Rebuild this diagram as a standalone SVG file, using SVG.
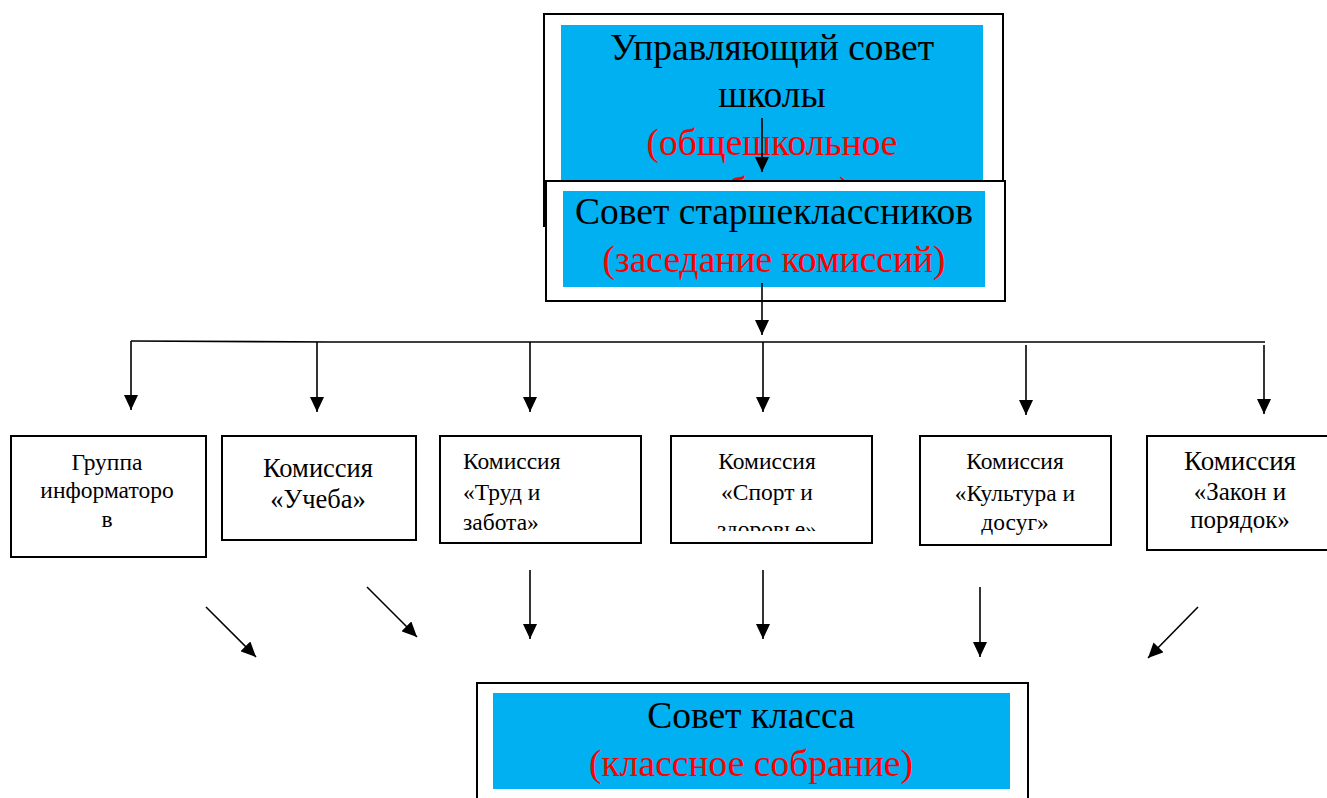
<svg xmlns="http://www.w3.org/2000/svg" width="1327" height="798" viewBox="0 0 1327 798">
<style>
.box{fill:#fff;stroke:#000;stroke-width:2}
.fill{fill:#00B0F0}
text{font-family:'Liberation Serif','Times New Roman',Times,serif;fill:#000}
.r{fill:#FF0000}
.big{font-size:37.5px}
.sm{font-size:23.5px}
.md{font-size:26.5px}
.c{text-anchor:middle}
.ln{stroke:#000;stroke-width:1.6;fill:none}
</style>
<defs>
<marker id="ah" markerUnits="userSpaceOnUse" markerWidth="16" markerHeight="14" refX="15" refY="7" orient="auto" viewBox="0 0 16 14">
<path d="M0,0 L15,7 L0,14 z" fill="#000"/>
</marker>
<clipPath id="clip4"><rect x="671" y="436" width="201" height="95"/></clipPath>
<clipPath id="clip1"><rect x="544" y="14" width="459" height="166"/></clipPath>
</defs>

<g id="node-school">
<rect class="box" x="544" y="14" width="459" height="212"/>
<rect class="fill" x="561" y="25" width="422" height="170"/>
<text class="big c" x="772" y="60" font-size="38">Управляющий совет</text>
<text class="big c" x="772" y="107" font-size="38">школы</text>
<text class="big c r" x="772" y="155" font-size="38">(общешкольное</text>
<text class="big c r" x="772" y="203" font-size="38" clip-path="url(#clip1)">собрание)</text>
</g>

<g id="node-senior">
<rect class="box" x="546" y="181" width="459" height="120"/>
<rect class="fill" x="563" y="191" width="422" height="96"/>
<text class="big c" x="774" y="224">Совет старшеклассников</text>
<text class="big c r" x="774" y="272">(заседание комиссий)</text>
</g>

<g id="node-info">
<rect class="box" x="11" y="436" width="195" height="121"/>
<text class="sm c" x="107" y="470">Группа</text>
<text class="sm c" x="107" y="498">информаторо</text>
<text class="sm c" x="107" y="527">в</text>
</g>

<g id="node-study">
<rect class="box" x="222" y="436" width="194" height="104"/>
<text class="md c" x="318" y="477">Комиссия</text>
<text class="md c" x="318" y="508">«Учеба»</text>
</g>

<g id="node-labor">
<rect class="box" x="440" y="436" width="201" height="107"/>
<text class="sm" x="463" y="469">Комиссия</text>
<text class="sm" x="463" y="500">«Труд и</text>
<text class="sm" x="463" y="530">забота»</text>
</g>

<g id="node-sport">
<rect class="box" x="671" y="436" width="201" height="107"/>
<g clip-path="url(#clip4)">
<text class="sm c" x="767" y="469">Комиссия</text>
<text class="sm c" x="767" y="500">«Спорт и</text>
<text class="sm c" x="767" y="537">здоровье»</text>
</g>
</g>

<g id="node-culture">
<rect class="box" x="920" y="436" width="191" height="109"/>
<text class="sm c" x="1015" y="469">Комиссия</text>
<text class="sm c" x="1015" y="501">«Культура и</text>
<text class="sm c" x="1015" y="530">досуг»</text>
</g>

<g id="node-law">
<rect class="box" x="1147" y="436" width="190" height="114"/>
<text class="c" font-size="27" x="1240" y="470">Комиссия</text>
<text class="c" font-size="25" x="1240" y="500">«Закон и</text>
<text class="c" font-size="25" x="1240" y="528">порядок»</text>
</g>

<g id="node-class">
<rect class="box" x="477" y="683" width="551" height="130"/>
<rect class="fill" x="493" y="693" width="517" height="96"/>
<text class="big c" x="751" y="728">Совет класса</text>
<text class="big c r" x="751" y="776">(классное собрание)</text>
</g>

<g id="connectors">
<line class="ln" x1="762" y1="118" x2="762" y2="172" marker-end="url(#ah)"/>
<line class="ln" x1="762" y1="283" x2="762" y2="335" marker-end="url(#ah)"/>
<polyline class="ln" points="131,341 330,342 1265,342"/>
<line class="ln" x1="131" y1="341" x2="131" y2="410" marker-end="url(#ah)"/>
<line class="ln" x1="317" y1="342" x2="317" y2="412" marker-end="url(#ah)"/>
<line class="ln" x1="530" y1="342" x2="530" y2="412" marker-end="url(#ah)"/>
<line class="ln" x1="763" y1="342" x2="763" y2="412" marker-end="url(#ah)"/>
<line class="ln" x1="1026" y1="345" x2="1026" y2="415" marker-end="url(#ah)"/>
<line class="ln" x1="1264" y1="345" x2="1264" y2="414" marker-end="url(#ah)"/>
<line class="ln" x1="206" y1="607" x2="256" y2="657" marker-end="url(#ah)"/>
<line class="ln" x1="367" y1="587" x2="417" y2="637" marker-end="url(#ah)"/>
<line class="ln" x1="530" y1="570" x2="530" y2="639" marker-end="url(#ah)"/>
<line class="ln" x1="763" y1="570" x2="763" y2="639" marker-end="url(#ah)"/>
<line class="ln" x1="980" y1="587" x2="980" y2="657" marker-end="url(#ah)"/>
<line class="ln" x1="1198" y1="607" x2="1148" y2="658" marker-end="url(#ah)"/>
</g>
</svg>
